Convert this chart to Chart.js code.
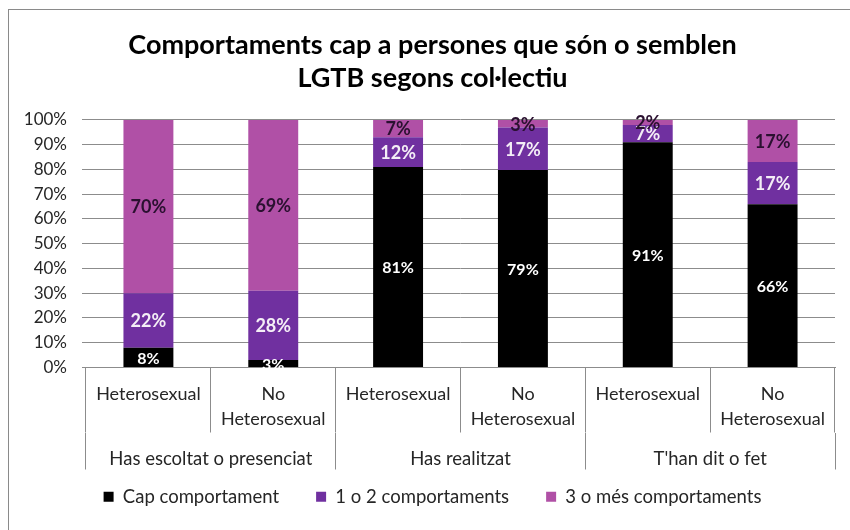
<!DOCTYPE html>
<html>
<head>
<meta charset="utf-8">
<script src="https://cdn.jsdelivr.net/npm/chart.js@4"></script>
<style>
  html, body { margin: 0; padding: 0; background: #fff; }
  #wrap { width: 850px; height: 530px; }
</style>
</head>
<body>
<div id="wrap"><canvas id="chart" width="850" height="530"></canvas></div>
<script>
  // Data
  const subLabels = [
    "Heterosexual", ["No", "Heterosexual"],
    "Heterosexual", ["No", "Heterosexual"],
    "Heterosexual", ["No", "Heterosexual"],
  ];
  const groupLabels = ["Has escoltat o presenciat", "Has realitzat", "T'han dit o fet"];
  const seriesNames = ["Cap comportament", "1 o 2 comportaments", "3 o més comportaments"];
  const capValues = [8, 3, 81, 79, 91, 66];
  const unDosValues = [22, 28, 12, 17, 7, 17];
  const tresMesValues = [70, 69, 7, 3, 2, 17];
  const yTicks = [0, 10, 20, 30, 40, 50, 60, 70, 80, 90, 100];

  const colors = ["#000000", "#7030a0", "#b050a6"];
  const labelColors = ["#ffffff", "#f4eef6", "#2a1030"];
  const labelSizes = [16, 18, 18];
  const FONT = "Lato, 'Open Sans', sans-serif";
  const GRID = "#8c8c8c";
  const TEXT = "#262626";
  const Y_FONT = 17;

  // 100% stacked, like the original spreadsheet chart
  const totals = capValues.map((v, i) => v + unDosValues[i] + tresMesValues[i]);
  const raw = [capValues, unDosValues, tresMesValues];
  const share = (arr) => arr.map((v, i) => (v / totals[i]) * 100);

  // y labels are mirrored (so they are not clipped by the narrow axis box);
  // measure the widest one to put their right edge back where it belongs
  const measure = document.createElement("canvas").getContext("2d");
  measure.font = `${Y_FONT}px ${FONT}`;
  const widestY = measure.measureText("100%").width;

  const frame = {
    id: "frame",
    beforeDraw(chart) {
      const ctx = chart.ctx;
      ctx.save();
      ctx.fillStyle = "#fff";
      ctx.fillRect(0, 0, chart.width, chart.height);
      ctx.strokeStyle = "#8a8a8a";
      ctx.lineWidth = 1;
      ctx.strokeRect(8.5, 9.5, 880, 560);
      ctx.restore();
    },
  };

  const barLabels = {
    id: "barLabels",
    afterDatasetsDraw(chart) {
      const ctx = chart.ctx;
      ctx.save();
      ctx.textAlign = "center";
      ctx.textBaseline = "middle";
      chart.data.datasets.forEach((ds, di) => {
        const meta = chart.getDatasetMeta(di);
        ctx.fillStyle = labelColors[di];
        ctx.font = `bold ${labelSizes[di]}px ${FONT}`;
        meta.data.forEach((bar, i) => {
          const y = (bar.y + bar.base) / 2;
          ctx.fillText(raw[di][i] + "%", bar.x, y + 1);
        });
      });
      ctx.restore();
    },
  };

  new Chart(document.getElementById("chart"), {
    type: "bar",
    data: {
      labels: subLabels,
      datasets: seriesNames.map((name, i) => ({
        label: name,
        data: share(raw[i]),
        backgroundColor: colors[i],
        borderWidth: 0,
        barPercentage: 0.4,
        categoryPercentage: 1,
      })),
    },
    options: {
      responsive: false,
      animation: false,
      layout: { padding: { left: 30, right: 15, top: 0, bottom: 14 } },
      scales: {
        x: {
          stacked: true,
          offset: true,
          grid: {
            offset: true,
            drawOnChartArea: false,
            tickLength: 65,
            color: GRID,
          },
          border: { display: true, color: GRID },
          ticks: {
            autoSkip: false,
            maxRotation: 0,
            padding: -50.5,
            color: TEXT,
            font: { family: FONT, size: 18, lineHeight: 1.39 },
          },
          afterFit(scale) { scale.height = 65; },
        },
        x2: {
          type: "category",
          position: "bottom",
          labels: groupLabels,
          offset: true,
          grid: {
            offset: true,
            drawOnChartArea: false,
            tickLength: 37,
            color: GRID,
          },
          border: { display: false },
          ticks: {
            autoSkip: false,
            maxRotation: 0,
            mirror: true,
            padding: -38,
            color: TEXT,
            font: { family: FONT, size: 18.5, lineHeight: 1.2 },
          },
          afterFit(scale) { scale.height = 18; },
        },
        y: {
          stacked: true,
          min: 0,
          max: 100,
          afterBuildTicks(scale) { scale.ticks = yTicks.map((v) => ({ value: v })); },
          grid: { color: GRID, tickLength: 4 },
          border: { display: false },
          ticks: {
            mirror: true,
            crossAlign: "far",
            padding: -(19 + widestY),
            color: TEXT,
            font: { family: FONT, size: Y_FONT },
            callback: (v) => v + "%",
          },
          afterFit(scale) { scale.width = 56; },
        },
      },
      plugins: {
        title: {
          display: true,
          text: ["Comportaments cap a persones que són o semblen", "LGTB segons col·lectiu"],
          color: "#000",
          font: { family: FONT, size: 27, weight: "bold", lineHeight: 1.22 },
          padding: { top: 28.5, bottom: 25.6 },
        },
        legend: {
          position: "bottom",
          labels: {
            boxWidth: 10,
            boxHeight: 10,
            padding: 37,
            color: TEXT,
            font: { family: FONT, size: 18.5 },
          },
        },
        tooltip: { enabled: false },
      },
    },
    plugins: [frame, barLabels],
  });
</script>
</body>
</html>
